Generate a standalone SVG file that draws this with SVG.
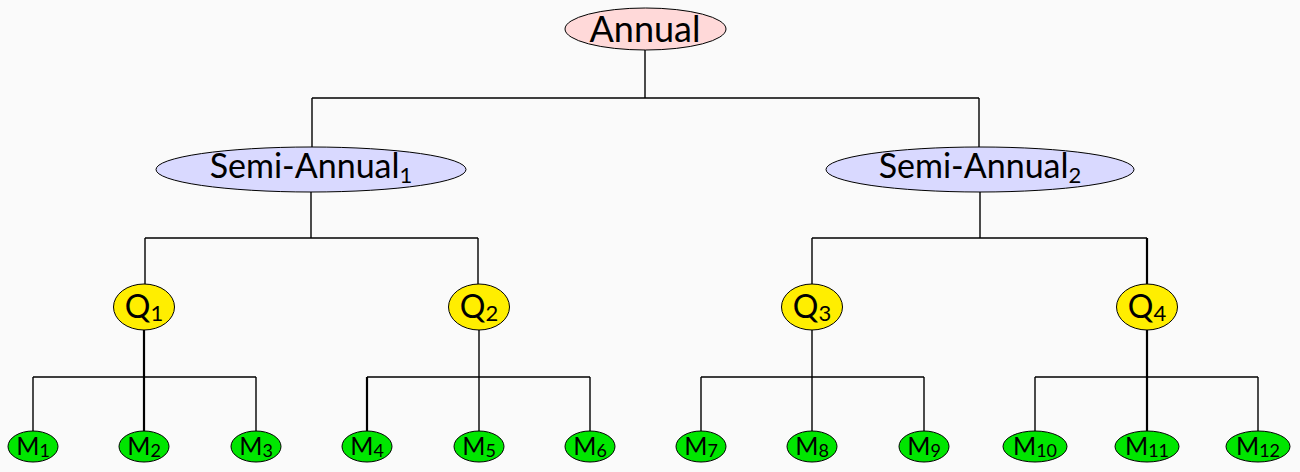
<svg xmlns="http://www.w3.org/2000/svg" width="1300" height="472" viewBox="0 0 1300 472">
<style>
.bg{fill:#fafafa}
.n{stroke:#000;stroke-width:1}
.a{fill:#ffd9d9}
.s{fill:#d9d9ff}
.q{fill:#ffee00}
.m{fill:#00e600}
.c line,.c path{stroke:#000;stroke-width:1.4;fill:none}
.c .t{stroke-width:2.2}
text{font-family:Lato,"Open Sans","Liberation Sans",sans-serif;fill:#000;text-anchor:middle}
.ta{font-size:36px}
.ts{font-size:34px}
.tq{font-size:32px}
.tm{font-size:25px}
</style>
<rect class="bg" width="1300" height="472"/>
<g class="c" id="connectors">
<path d="M645,50V98M312,98H979M312,98V147M979,98V147"/>
<path d="M311,192V238M145,238H478M145,238V284M478,238V284"/>
<path d="M980,192V238M812,238H1147M812,238V284"/>
<line class="t" x1="1147" y1="238" x2="1147" y2="284"/>
<path d="M33,377H256M33,377V431M256,377V431"/>
<line class="t" x1="144" y1="330" x2="144" y2="431"/>
<path d="M479,330V377M367,377H590M479,377V431M590,377V431"/>
<line class="t" x1="367" y1="377" x2="367" y2="431"/>
<path d="M812,330V377M701,377H924M701,377V431M812,377V431M924,377V431"/>
<path d="M1035,377H1258M1035,377V431M1258,377V431"/>
<line class="t" x1="1147" y1="330" x2="1147" y2="431"/>
</g>
<g id="annual"><ellipse class="n a" cx="645.5" cy="29" rx="80.5" ry="21"/><text class="ta" x="645" y="42">Annual</text></g>
<g id="semi1"><ellipse class="n s" cx="311" cy="169.5" rx="155" ry="22.5"/><text class="ts" x="311" y="178">Semi-Annual<tspan font-size="22" dy="5">1</tspan></text></g>
<g id="semi2"><ellipse class="n s" cx="980" cy="169.5" rx="154" ry="22.5"/><text class="ts" x="980" y="178">Semi-Annual<tspan font-size="22" dy="5">2</tspan></text></g>
<g id="q1"><ellipse class="n q" cx="144" cy="307" rx="30.5" ry="23"/><text class="tq" x="144" y="318">Q<tspan font-size="22" dy="3">1</tspan></text></g>
<g id="q2"><ellipse class="n q" cx="479" cy="307" rx="30.5" ry="23"/><text class="tq" x="479" y="318">Q<tspan font-size="22" dy="3">2</tspan></text></g>
<g id="q3"><ellipse class="n q" cx="812" cy="307" rx="30.5" ry="23"/><text class="tq" x="812" y="318">Q<tspan font-size="22" dy="3">3</tspan></text></g>
<g id="q4"><ellipse class="n q" cx="1147" cy="307" rx="30.5" ry="23"/><text class="tq" x="1147" y="318">Q<tspan font-size="22" dy="3">4</tspan></text></g>
<g id="m1"><ellipse class="n m" cx="33" cy="446.5" rx="25" ry="15.5"/><text class="tm" x="33" y="455">M<tspan font-size="18" dy="2">1</tspan></text></g>
<g id="m2"><ellipse class="n m" cx="144" cy="446.5" rx="25" ry="15.5"/><text class="tm" x="144" y="455">M<tspan font-size="18" dy="2">2</tspan></text></g>
<g id="m3"><ellipse class="n m" cx="256" cy="446.5" rx="25" ry="15.5"/><text class="tm" x="256" y="455">M<tspan font-size="18" dy="2">3</tspan></text></g>
<g id="m4"><ellipse class="n m" cx="367" cy="446.5" rx="25" ry="15.5"/><text class="tm" x="367" y="455">M<tspan font-size="18" dy="2">4</tspan></text></g>
<g id="m5"><ellipse class="n m" cx="479" cy="446.5" rx="25" ry="15.5"/><text class="tm" x="479" y="455">M<tspan font-size="18" dy="2">5</tspan></text></g>
<g id="m6"><ellipse class="n m" cx="590" cy="446.5" rx="25" ry="15.5"/><text class="tm" x="590" y="455">M<tspan font-size="18" dy="2">6</tspan></text></g>
<g id="m7"><ellipse class="n m" cx="701" cy="446.5" rx="25" ry="15.5"/><text class="tm" x="701" y="455">M<tspan font-size="18" dy="2">7</tspan></text></g>
<g id="m8"><ellipse class="n m" cx="812" cy="446.5" rx="25" ry="15.5"/><text class="tm" x="812" y="455">M<tspan font-size="18" dy="2">8</tspan></text></g>
<g id="m9"><ellipse class="n m" cx="924" cy="446.5" rx="25" ry="15.5"/><text class="tm" x="924" y="455">M<tspan font-size="18" dy="2">9</tspan></text></g>
<g id="m10"><ellipse class="n m" cx="1035" cy="446.5" rx="32" ry="15.5"/><text class="tm" x="1035" y="455">M<tspan font-size="18" dy="2">10</tspan></text></g>
<g id="m11"><ellipse class="n m" cx="1147" cy="446.5" rx="32" ry="15.5"/><text class="tm" x="1147" y="455">M<tspan font-size="18" dy="2">11</tspan></text></g>
<g id="m12"><ellipse class="n m" cx="1258" cy="446.5" rx="32" ry="15.5"/><text class="tm" x="1258" y="455">M<tspan font-size="18" dy="2">12</tspan></text></g>
</svg>
